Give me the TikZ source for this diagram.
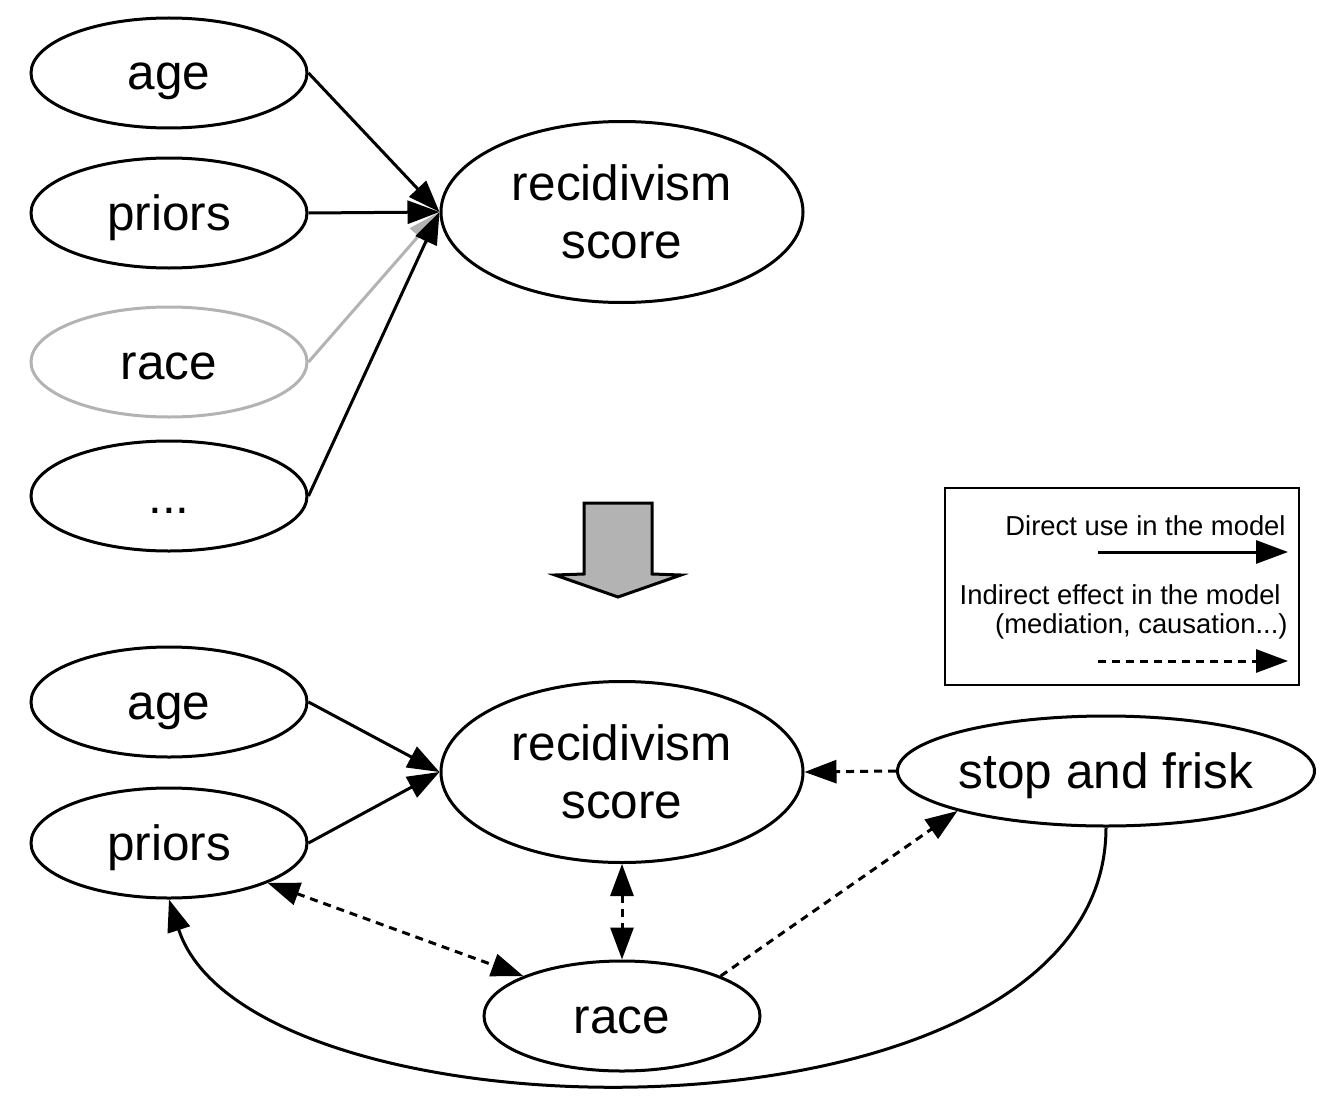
\documentclass[tikz,border=0pt]{standalone}
\usepackage{fontspec}
\setmainfont{Liberation Sans}
\usetikzlibrary{arrows.meta,shapes.geometric}
\definecolor{lightgrey}{HTML}{B3B3B3}

\begin{document}
\begin{tikzpicture}[x=0.5pt,y=-0.5pt,
  blob/.style={draw,ellipse,line width=1.5pt,inner sep=0pt,minimum width=138pt,minimum height=55pt,font=\fontsize{24.75}{29}\selectfont},
  var/.style={blob,text height=17pt,text depth=0pt},
  big/.style={blob,minimum width=181pt,minimum height=90.5pt,align=center},
  use/.style={line width=1.5pt,-{Triangle[length=16pt,width=11.5pt]}},
  effect/.style={use,dash pattern=on 4pt off 3pt},
  both/.style={effect,{Triangle[length=16pt,width=11.5pt]}-{Triangle[length=16pt,width=11.5pt]}},
  key/.style={inner sep=0pt,font=\fontsize{13.7}{16}\selectfont}]
  \useasboundingbox (0,0) rectangle (1338,1102);

  % Top: the score as the model sees it
  \node[var] (ageA) at (169,73) {age};
  \node[var] (priorsA) at (169,213) {priors};
  \node[var,draw=lightgrey] (raceA) at (169,362) {race};
  \node[var] (moreA) at (169,496) {...};
  \node[big] (scoreA) at (622,212) {recidivism\\score};
  \draw[use] (ageA.east) -- (scoreA.west);
  \draw[use] (priorsA.east) -- (scoreA.west);
  \draw[use,lightgrey] (raceA.east) -- (scoreA.west);
  \draw[use] (moreA.east) -- (scoreA.west);

  % Down arrow
  \draw[line width=1.5pt,fill=lightgrey] (584,503) -- (652,503) -- (652,574) -- (681,575)
    -- (618,597) -- (555,575) -- (584,574) -- cycle;

  % Legend
  \draw[line width=0.75pt] (945,488) rectangle (1299,685);
  \node[key,anchor=base east] (direct) at (1286,535) {Direct use in the model};
  \node[key,anchor=base east] (indirect) at (1281,604) {Indirect effect in the model};
  \node[key,anchor=base east] (examples) at (1288,633) {(mediation, causation...)};
  \coordinate (d0) at (1098,552);
  \coordinate (d1) at (1288,552);
  \coordinate (i0) at (1098,661);
  \coordinate (i1) at (1288,661);
  \draw[use] (d0) -- (d1);
  \draw[effect] (i0) -- (i1);

  % Bottom: the score in the world
  \node[var] (ageB) at (169,702) {age};
  \node[var] (priorsB) at (169,843) {priors};
  \node[big] (scoreB) at (622,772) {recidivism\\score};
  \node[var,minimum width=208.5pt] (sfB) at (1106,771) {stop and frisk};
  \node[var] (raceB) at (622,1016) {race};
  \draw[use] (ageB.east) -- (scoreB.west);
  \draw[use] (priorsB.east) -- (scoreB.west);
  \draw[effect] (sfB.west) -- (scoreB.east);
  \draw[effect] (raceB.north east) -- (sfB.south west);
  \draw[both] (priorsB.south east) -- (raceB.north west);
  \draw[both] (scoreB.south) -- (raceB.north);
  \draw[use] (sfB.south) .. controls (1106,1160) and (250,1150) .. (priorsB.south);
\end{tikzpicture}
\end{document}
